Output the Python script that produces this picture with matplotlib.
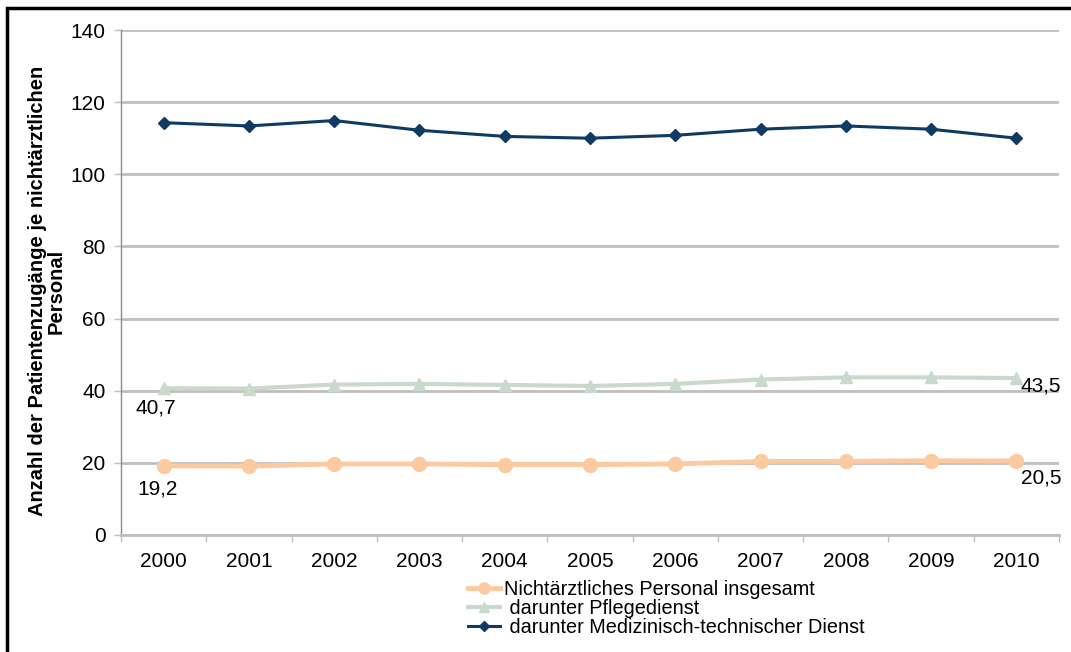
import matplotlib
matplotlib.use("Agg")
import matplotlib.pyplot as plt
import numpy as np

# data
years = ["2000", "2001", "2002", "2003", "2004", "2005",
         "2006", "2007", "2008", "2009", "2010"]
gesamt = [19.2, 19.1, 19.7, 19.7, 19.5, 19.5, 19.7, 20.4, 20.4, 20.6, 20.5]
pflege = [40.7, 40.6, 41.7, 41.9, 41.6, 41.3, 41.9, 43.1, 43.7, 43.7, 43.5]
medtech = [114.3, 113.4, 114.9, 112.2, 110.5, 110.0, 110.8, 112.5, 113.4, 112.5, 110.0]

plt.rcParams['font.family'] = ['Liberation Sans', 'DejaVu Sans']

fig = plt.figure(figsize=(10.71, 6.52), dpi=100)
ax = fig.add_axes([121/1071, 1-535/652, (1059-121)/1071, (535-30)/652])

x = np.arange(len(years))
grid_c = "#BFBFBF"

ax.plot(x, gesamt, color="#FBCAA0", lw=3.5, marker="o", ms=10,
        label="Nichtärztliches Personal insgesamt", zorder=3)
ax.plot(x, pflege, color="#C9DACB", lw=3, marker="^", ms=9,
        label=" darunter Pflegedienst", zorder=3)
ax.plot(x, medtech, color="#0E3A64", lw=2.2, marker="D", ms=6,
        label=" darunter Medizinisch-technischer Dienst", zorder=3)

ax.set_xlim(-0.5, len(years) - 0.5)
ax.set_ylim(0, 140)
ax.set_yticks(np.arange(0, 141, 20))
ax.set_xticks(x)
ax.set_xticklabels(years)
ax.set_xticks(np.arange(-0.5, len(years), 1), minor=True)
ax.tick_params(axis="x", which="major", length=0, pad=12, labelsize=15)
ax.tick_params(axis="x", which="minor", length=5, width=1, color=grid_c, direction="out")
ax.tick_params(axis="y", length=5, width=1, color=grid_c, labelsize=15, pad=6)

ax.yaxis.grid(True, color=grid_c, lw=2)
ax.set_axisbelow(True)
for s in ["top", "right"]:
    ax.spines[s].set_visible(False)
ax.spines["left"].set_color("#8C8C8C")
ax.spines["left"].set_linewidth(1)
ax.spines["bottom"].set_color(grid_c)
ax.spines["bottom"].set_linewidth(2)

ax.set_ylabel("Anzahl der Patientenzugänge je nichtärztlichen\nPersonal",
              fontsize=14.5, fontweight="bold", linespacing=0.95)
ax.yaxis.set_label_coords(-0.059, 0.483)

# data labels for first and last year
ax.annotate("19,2", (x[0], gesamt[0]), xytext=(-19, -17), textcoords="offset points",
            fontsize=15, ha="left", va="center")
ax.annotate("40,7", (x[0], pflege[0]), xytext=(-20, -14), textcoords="offset points",
            fontsize=15, ha="left", va="center")
ax.annotate("43,5", (x[-1], pflege[-1]), xytext=(3, -6), textcoords="offset points",
            fontsize=15, ha="left", va="center")
ax.annotate("20,5", (x[-1], gesamt[-1]), xytext=(3, -12), textcoords="offset points",
            fontsize=15, ha="left", va="center")

fig.legend(loc="upper left", bbox_to_anchor=(460/1071, 1-572/652), frameon=False,
           fontsize=14.3, handlelength=1.6, handletextpad=0.2, labelspacing=0.0,
           borderaxespad=0, markerscale=0.8)

# black frame, only left and top edges fall inside the image
fig.add_artist(plt.Rectangle((7/1071, -0.05), 1.1, 1 - 8/652 + 0.05,
                             transform=fig.transFigure, fill=False,
                             ec="black", lw=2.5))

fig.savefig("out.png", dpi=100)
